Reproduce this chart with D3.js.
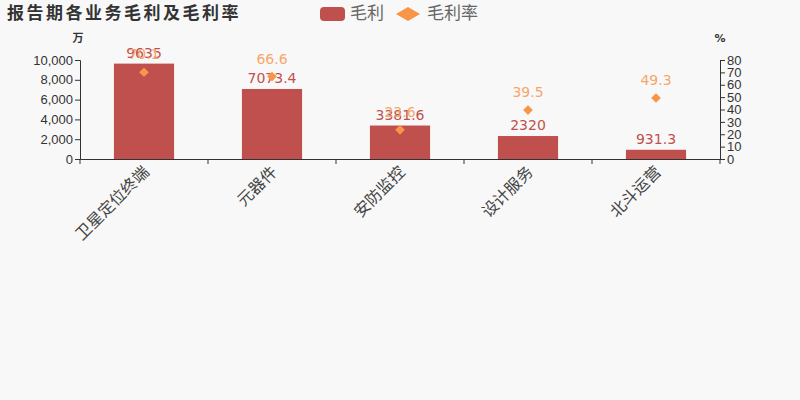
<!DOCTYPE html>
<html>
<head>
<meta charset="utf-8">
<script src="https://cdn.jsdelivr.net/npm/d3@7"></script>
<style>
  body { margin: 0; background: #f8f8f8; }
  svg { font-family: "DejaVu Sans", "Noto Sans CJK SC", sans-serif; }
</style>
</head>
<body>
<div id="chart"></div>
<script>
var categories = ['卫星定位终端', '元器件', '安防监控', '设计服务', '北斗运营']
var profit = [9635, 7073.4, 3381.6, 2320, 931.3]
var margin_rate = [70.1, 66.6, 23.6, 39.5, 49.3]
var profitTicks = [0, 2000, 4000, 6000, 8000, 10000]
var rateTicks = [0, 10, 20, 30, 40, 50, 60, 70, 80]

var W = 800, H = 400
var m = { top: 60, right: 80, bottom: 241, left: 80 }
var width = W - m.left - m.right, height = H - m.top - m.bottom

var svg = d3.select('#chart').append('svg')
    .attr('width', W)
    .attr('height', H)
svg.append('rect').attr('width', W).attr('height', H).attr('fill', '#f8f8f8')

// title + legend
svg.append('text').attr('x', 7).attr('y', 19)
    .attr('font-size', '17px').attr('font-weight', 'bold').attr('fill', '#333')
    .attr('font-family', 'Noto Sans CJK SC').attr('letter-spacing', '2.5px')
    .text('报告期各业务毛利及毛利率')
svg.append('rect').attr('x', 320).attr('y', 7).attr('width', 25).attr('height', 14)
    .attr('rx', 4).attr('fill', '#c0504d')
svg.append('text').attr('x', 350).attr('y', 19).attr('font-size', '17px').attr('fill', '#666')
    .attr('font-family', 'Noto Sans CJK SC').text('毛利')
svg.append('path').attr('d', 'M396,14 L408,7 L420,14 L408,21 Z').attr('fill', '#f79646')
svg.append('text').attr('x', 427).attr('y', 19).attr('font-size', '17px').attr('fill', '#666')
    .attr('font-family', 'Noto Sans CJK SC').text('毛利率')

var g = svg.append('g').attr('transform', 'translate(' + m.left + ',' + m.top + ')')

var x = d3.scaleBand().domain(categories).range([0, width]).paddingInner(0.53).paddingOuter(0.265)
var xb = d3.scaleBand().domain(categories).range([0, width])
var y = d3.scaleLinear().domain([0, 10000]).range([height, 0])
var y2 = d3.scaleLinear().domain([0, 80]).range([height, 0])

// axes
var yAxis = g.append('g').call(d3.axisLeft(y).tickValues(profitTicks).tickSize(5).tickFormat(d3.format(',')))
var y2Axis = g.append('g').attr('transform', 'translate(' + width + ',0)')
    .call(d3.axisRight(y2).tickValues(rateTicks).tickSize(5))
var xAxis = g.append('g').attr('transform', 'translate(0,' + height + ')')
    .call(d3.axisBottom(xb).tickSize(0).tickFormat(''))
xAxis.selectAll('.bound').data(d3.range(categories.length + 1)).enter().append('line')
    .attr('x1', function (i) { return i * xb.step() }).attr('x2', function (i) { return i * xb.step() })
    .attr('y1', 0).attr('y2', 5).attr('stroke', '#333')

;[yAxis, y2Axis, xAxis].forEach(function (a) {
    a.select('.domain').attr('stroke', '#333')
    a.selectAll('.tick line').attr('stroke', '#333')
    a.selectAll('.tick text').attr('fill', '#333').attr('font-size', '13px')
})
yAxis.selectAll('.tick text').attr('x', -7)
y2Axis.selectAll('.tick text').attr('x', 7)

g.append('text').attr('x', -2).attr('y', -18).attr('text-anchor', 'middle')
    .attr('font-size', '11px').attr('font-weight', 'bold').attr('fill', '#333')
    .attr('font-family', 'Noto Sans CJK SC').text('万')
g.append('text').attr('x', width).attr('y', -18).attr('text-anchor', 'middle')
    .attr('font-size', '11px').attr('font-weight', 'bold').attr('fill', '#333').text('%')

// category labels
g.selectAll('.cat').data(categories).enter().append('text')
    .attr('font-family', 'Noto Sans CJK SC').attr('font-size', '16px').attr('fill', '#444')
    .attr('text-anchor', 'end')
    .attr('transform', function (d) {
        return 'translate(' + (xb(d) + xb.bandwidth() / 2 + 6) + ',' + (height + 14) + ') rotate(-45)'
    })
    .text(function (d) { return d })

// bars
g.selectAll('.bar').data(categories).enter().append('rect')
    .attr('x', function (d) { return x(d) })
    .attr('width', x.bandwidth())
    .attr('y', function (d, i) { return y(profit[i]) })
    .attr('height', function (d, i) { return height - y(profit[i]) })
    .attr('fill', '#c0504d')

g.selectAll('.barlabel').data(categories).enter().append('text')
    .attr('x', function (d) { return x(d) + x.bandwidth() / 2 })
    .attr('y', function (d, i) { return y(profit[i]) - 6 })
    .attr('text-anchor', 'middle').attr('font-size', '14px').attr('fill', '#c0504d')
    .text(function (d, i) { return profit[i] })

// margin rate diamonds
g.selectAll('.pt').data(categories).enter().append('path')
    .attr('d', d3.symbol(d3.symbolDiamond2, 60))
    .attr('transform', function (d, i) {
        return 'translate(' + (xb(d) + xb.bandwidth() / 2) + ',' + y2(margin_rate[i]) + ')'
    })
    .attr('fill', '#f79646')

g.selectAll('.ptlabel').data(categories).enter().append('text')
    .attr('x', function (d) { return xb(d) + xb.bandwidth() / 2 })
    .attr('y', function (d, i) { return y2(margin_rate[i]) - 13 })
    .attr('text-anchor', 'middle').attr('font-size', '14px').attr('fill', '#f7a66b')
    .text(function (d, i) { return margin_rate[i] })
</script>
</body>
</html>
